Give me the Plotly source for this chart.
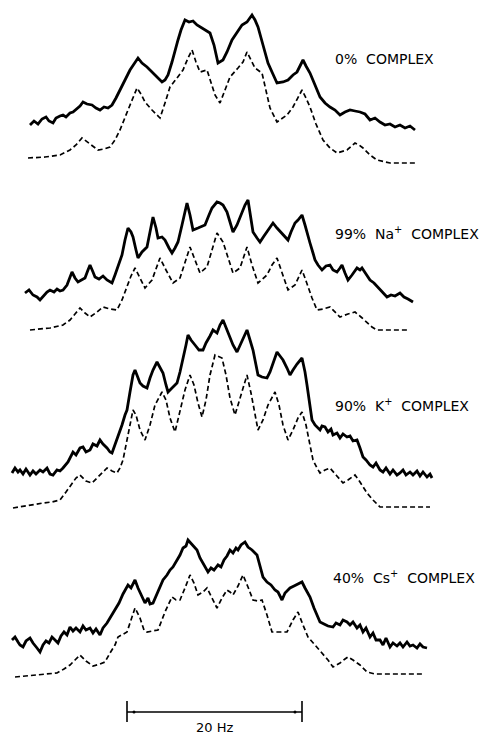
import plotly.graph_objects as go

# ---- data (x, y) in picture units (y grows downward) ----
zero_exp = [(30,125),(34,121),(38,124),(42,119),(46,117),(49,121),(53,123),(56,118),(60,116),(63,115),
            (66,117),(70,113),(73,112),(77,109),(80,106),(83,102),(87,104),(92,105),(96,108),(100,110),
            (104,107),(108,108),(112,105),(116,98),(120,90),(125,80),(130,70),(134,64),(138,58),(142,63),
            (147,67),(152,72),(157,77),(162,82),(165,80),(168,75),(172,62),(175,50),(178,40),(181,30),
            (185,20),(189,22),(193,21),(197,25),(202,28),(206,30),(210,33),(214,45),(218,63),(223,60),
            (227,52),(232,40),(237,32),(242,25),(247,22),(252,15),(255,20),(258,27),(263,45),(268,63),
            (272,72),(277,83),(283,82),(288,80),(293,75),(297,72),(300,66),(303,60),(306,66),(310,73),
            (315,85),(320,97),(325,103),(330,107),(335,110),(340,115),(345,112),(350,110),(355,111),(360,112),
            (365,114),(370,120),(375,118),(380,122),(385,125),(390,124),(395,127),(400,125),(405,128),(410,126),
            (415,130)]
zero_sim = [(28,158),(45,157),(60,155),(70,150),(76,145),(82,138),(90,144),(98,150),(104,149),(110,147),
            (115,140),(120,130),(128,110),(137,88),(141,94),(145,102),(152,110),(160,118),(165,103),(170,87),
            (177,78),(183,70),(188,58),(192,50),(196,62),(200,72),(207,70),(211,82),(215,95),(220,103),
            (225,90),(230,77),(238,68),(243,62),(247,52),(251,60),(255,68),(262,73),(266,90),(270,108),
            (277,122),(287,115),(293,107),(298,98),(302,90),(306,98),(310,107),(316,124),(323,140),(330,148),
            (337,153),(347,150),(355,143),(359,145),(363,148),(370,155),(377,160),(390,163),(417,163)]

na_exp = [(25,293),(29,290),(33,295),(37,297),(40,300),(44,295),(47,292),(50,290),(54,292),(57,289),
          (60,291),(63,290),(67,285),(72,272),(75,278),(78,282),(82,280),(85,278),(88,270),(90,265),
          (93,272),(95,277),(99,279),(103,276),(107,280),(110,282),(112,283),(115,275),(118,267),(122,255),
          (125,240),(128,228),(131,232),(133,237),(136,250),(138,258),(142,252),(147,247),(150,232),(153,217),
          (156,228),(158,238),(162,237),(165,240),(169,248),(172,253),(175,248),(178,242),(182,225),(187,203),
          (190,215),(193,230),(198,228),(202,226),(205,225),(209,215),(212,208),(217,202),(220,203),(223,205),
          (227,212),(230,222),(233,232),(237,225),(242,212),(245,205),(248,200),(250,215),(253,232),(257,238),
          (260,242),(264,236),(267,232),(270,228),(273,223),(277,228),(282,233),(285,237),(288,240),(291,232),
          (295,223),(298,220),(302,215),(305,225),(308,237),(310,243),(313,253),(315,260),(318,265),(322,270),
          (326,266),(330,265),(333,270),(337,272),(340,268),(342,265),(345,273),(348,280),(352,275),(357,268),
          (360,270),(362,268),(366,274),(370,280),(374,283),(378,287),(382,292),(387,297),(391,295),(395,296),
          (400,293),(404,297),(408,299),(413,302)]
na_sim = [(30,330),(50,328),(63,325),(70,320),(75,314),(80,308),(85,313),(90,317),(97,312),(103,307),
          (110,309),(117,310),(122,300),(127,287),(131,276),(135,268),(140,278),(145,288),(152,280),(156,268),
          (160,258),(166,270),(173,283),(180,278),(185,262),(190,247),(195,260),(200,273),(207,267),(212,250),
          (217,233),(223,242),(228,258),(233,273),(240,268),(244,257),(247,247),(252,265),(258,283),(267,275),
          (272,265),(277,258),(282,272),(288,290),(295,285),(298,278),(302,270),(305,278),(308,287),(312,298),
          (317,310),(323,309),(330,307),(335,312),(340,317),(348,314),(355,312),(361,317),(367,323),(372,327),
          (377,330),(390,330),(408,330)]

k_exp = [(12,473),(15,468),(18,472),(20,470),(23,474),(26,469),(30,475),(33,471),(36,474),(40,470),
         (43,472),(47,468),(50,474),(53,475),(57,470),(60,471),(63,468),(68,462),(73,452),(76,455),
         (80,448),(83,447),(86,452),(90,450),(93,444),(97,446),(100,440),(103,444),(107,448),(110,452),
         (112,453),(115,445),(118,437),(122,425),(125,415),(127,410),(130,392),(133,375),(135,370),(138,378),
         (140,383),(143,386),(147,388),(150,378),(153,370),(157,362),(160,368),(163,373),(166,385),(168,392),
         (172,388),(177,383),(180,372),(183,360),(186,345),(188,335),(191,340),(195,345),(199,350),(203,350),
         (206,343),(210,336),(213,330),(217,333),(220,325),(223,320),(226,328),(230,337),(233,345),(237,352),
         (240,345),(244,336),(247,330),(250,340),(253,350),(256,365),(258,375),(262,377),(267,378),(270,372),
         (274,360),(277,352),(280,356),(283,360),(287,368),(290,375),(293,370),(297,364),(302,358),(305,372),
         (307,385),(309,400),(312,420),(315,425),(318,428),(320,430),(322,426),(325,427),(328,432),(331,429),
         (333,435),(337,433),(340,438),(343,434),(347,437),(350,436),(353,441),(357,440),(360,448),(363,457),
         (366,460),(370,465),(373,467),(376,463),(380,470),(383,472),(386,468),(390,474),(393,470),(397,475),
         (400,473),(403,470),(406,475),(410,472),(413,475),(417,471),(420,476),(423,472),(427,477),(430,474),
         (432,478)]
k_sim = [(13,508),(30,505),(43,503),(52,502),(60,500),(66,492),(72,483),(76,478),(80,475),(86,481),
         (92,483),(97,478),(102,472),(107,468),(112,471),(117,473),(120,468),(123,460),(128,435),(133,410),
         (136,415),(140,430),(145,440),(150,425),(155,405),(162,392),(166,400),(170,418),(175,432),(180,412),
         (185,390),(190,375),(194,385),(198,403),(202,417),(206,400),(210,375),(215,355),(222,358),(226,375),
         (230,398),(235,415),(240,398),(244,383),(247,375),(251,393),(255,415),(258,430),(263,420),(268,405),
         (275,392),(279,405),(283,425),(288,440),(293,430),(298,418),(302,412),(306,425),(310,445),(313,460),
         (317,468),(320,473),(325,470),(330,468),(336,475),(343,483),(348,480),(355,475),(360,482),(367,493),
         (373,500),(380,507),(400,507),(430,507)]

cs_exp = [(12,640),(15,637),(18,642),(20,645),(23,647),(26,641),(30,638),(33,643),(37,648),(40,652),
          (43,645),(46,641),(49,643),(52,637),(55,640),(58,643),(61,636),(64,632),(67,635),(70,627),
          (73,631),(76,628),(80,632),(83,626),(86,630),(90,628),(93,633),(96,629),(100,635),(103,628),
          (107,623),(111,616),(115,610),(119,603),(123,594),(128,585),(131,588),(135,580),(138,588),(141,595),
          (145,603),(148,598),(150,604),(153,603),(157,593),(160,586),(163,580),(167,575),(170,570),(173,567),
          (177,560),(180,555),(183,548),(186,546),(188,540),(190,542),(193,545),(197,550),(200,558),(204,565),
          (208,572),(211,568),(214,570),(218,565),(221,567),(224,560),(227,556),(230,550),(233,553),(236,548),
          (238,550),(241,545),(245,542),(248,547),(252,550),(257,555),(260,565),(263,577),(267,582),(271,585),
          (275,590),(278,592),(282,600),(285,593),(288,590),(290,588),(294,586),(298,584),(302,582),(305,588),
          (308,594),(310,597),(314,608),(317,616),(320,622),(324,624),(328,626),(333,627),(336,623),(340,625),
          (343,620),(347,622),(350,625),(353,622),(357,628),(360,625),(363,632),(366,628),(370,637),(373,633),
          (376,640),(380,640),(383,645),(386,638),(390,647),(393,643),(397,646),(400,643),(403,647),(407,642),
          (410,646),(413,645),(417,648),(420,644),(423,647),(427,648)]
cs_sim = [(15,677),(35,675),(57,673),(64,669),(70,665),(75,660),(80,655),(86,661),(93,666),(100,664),
          (105,662),(110,653),(115,645),(118,637),(122,635),(127,632),(131,620),(135,608),(140,618),(144,630),
          (147,632),(152,631),(158,630),(165,612),(172,597),(176,600),(180,600),(185,588),(190,575),(194,583),
          (198,595),(203,592),(207,588),(212,598),(217,608),(222,598),(227,590),(230,592),(233,595),(238,586),
          (243,575),(248,587),(253,600),(258,601),(262,600),(267,615),(272,632),(280,632),(287,632),(293,620),
          (298,612),(303,625),(308,637),(315,645),(322,653),(328,660),(333,667),(340,663),(345,659),(348,657),
          (353,660),(360,665),(367,672),(375,674),(423,674)]

panel_labels = ["0%\u00a0 COMPLEX", "99%\u00a0 Na<sup>+</sup>\u00a0 COMPLEX",
                "90%\u00a0 K<sup>+</sup>\u00a0 COMPLEX", "40%\u00a0 Cs<sup>+</sup>\u00a0 COMPLEX"]
label_x = [333, 333, 333, 331]
label_y = [59, 233, 405, 577]
scale_label = "20 Hz"

fig = go.Figure()

def add(pts, dashed):
    xs = [p[0] for p in pts]
    ys = [p[1] for p in pts]
    fig.add_trace(go.Scatter(
        x=xs, y=ys, mode="lines", showlegend=False, hoverinfo="skip",
        line=dict(color="black", width=1.7 if dashed else 2.8,
                  dash="5px,3px" if dashed else "solid", shape="linear")))

for exp, sim in [(zero_exp, zero_sim), (na_exp, na_sim), (k_exp, k_sim), (cs_exp, cs_sim)]:
    add(sim, True)
    add(exp, False)

for t, x, y in zip(panel_labels, label_x, label_y):
    fig.add_annotation(x=x, y=y, text=t, showarrow=False, xanchor="left", yanchor="middle",
                       font=dict(family="DejaVu Sans", size=14, color="black"))

# scale bar
bar_left, bar_right, bar_y = 127, 302, 712
fig.add_shape(type="line", x0=bar_left, x1=bar_right, y0=bar_y, y1=bar_y,
              line=dict(color="black", width=1.6))
for bx in (bar_left, bar_right):
    fig.add_shape(type="line", x0=bx, x1=bx, y0=bar_y - 11, y1=bar_y + 10,
                  line=dict(color="black", width=1.6))
for bx in (bar_left + 7, bar_right - 7):
    fig.add_shape(type="circle", x0=bx - 1.5, x1=bx + 1.5, y0=bar_y - 1.5, y1=bar_y + 1.5,
                  fillcolor="black", line=dict(color="black", width=0))
fig.add_annotation(x=(bar_left + bar_right) / 2, y=727, text=scale_label, showarrow=False,
                   xanchor="center", yanchor="middle",
                   font=dict(family="DejaVu Sans", size=13, color="black"))

fig.update_layout(
    width=479, height=734, margin=dict(l=0, r=0, t=0, b=0),
    paper_bgcolor="white", plot_bgcolor="white",
    xaxis=dict(range=[0, 479], visible=False, fixedrange=True),
    yaxis=dict(range=[734, 0], visible=False, fixedrange=True),
)

fig.write_html("out.html", config={"displayModeBar": False},
               post_script="document.body.style.margin='0';document.body.style.padding='0';"
                           "document.body.style.overflow='hidden';")
